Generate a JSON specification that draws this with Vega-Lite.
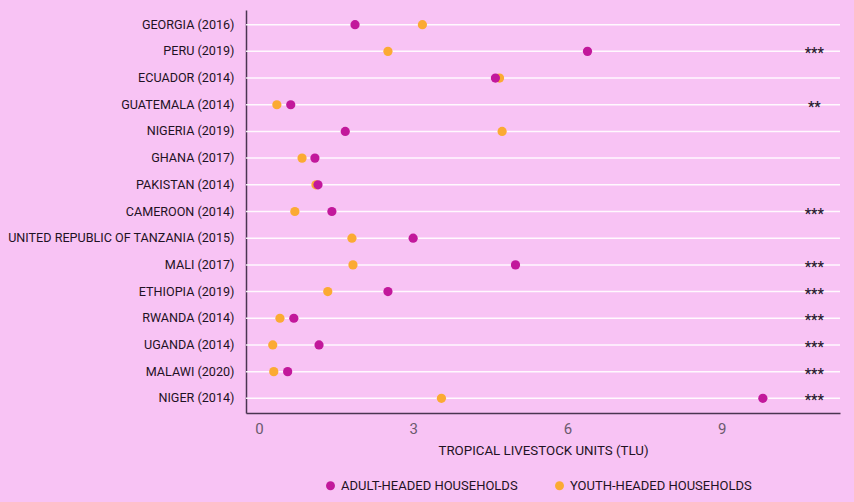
{
  "$schema": "https://vega.github.io/schema/vega-lite/v6.json",
  "width": 594,
  "height": 403,
  "autosize": {"type": "none"},
  "padding": {"left": 246, "top": 10, "right": 14, "bottom": 89},
  "background": "#F8C3F4",
  "config": {
    "view": {"stroke": null},
    "font": "Roboto",
    "axis": {"labelFont": "Roboto", "titleFont": "Roboto"}
  },
  "datasets": {
    "pts": [
      {"country": "GEORGIA (2016)", "group": "ADULT-HEADED HOUSEHOLDS", "tlu": 1.87},
      {"country": "GEORGIA (2016)", "group": "YOUTH-HEADED HOUSEHOLDS", "tlu": 3.18},
      {"country": "PERU (2019)", "group": "ADULT-HEADED HOUSEHOLDS", "tlu": 6.39},
      {"country": "PERU (2019)", "group": "YOUTH-HEADED HOUSEHOLDS", "tlu": 2.51},
      {"country": "ECUADOR (2014)", "group": "YOUTH-HEADED HOUSEHOLDS", "tlu": 4.68},
      {"country": "ECUADOR (2014)", "group": "ADULT-HEADED HOUSEHOLDS", "tlu": 4.6},
      {"country": "GUATEMALA (2014)", "group": "ADULT-HEADED HOUSEHOLDS", "tlu": 0.62},
      {"country": "GUATEMALA (2014)", "group": "YOUTH-HEADED HOUSEHOLDS", "tlu": 0.35},
      {"country": "NIGERIA (2019)", "group": "ADULT-HEADED HOUSEHOLDS", "tlu": 1.68},
      {"country": "NIGERIA (2019)", "group": "YOUTH-HEADED HOUSEHOLDS", "tlu": 4.73},
      {"country": "GHANA (2017)", "group": "ADULT-HEADED HOUSEHOLDS", "tlu": 1.09},
      {"country": "GHANA (2017)", "group": "YOUTH-HEADED HOUSEHOLDS", "tlu": 0.84},
      {"country": "PAKISTAN (2014)", "group": "YOUTH-HEADED HOUSEHOLDS", "tlu": 1.11},
      {"country": "PAKISTAN (2014)", "group": "ADULT-HEADED HOUSEHOLDS", "tlu": 1.15},
      {"country": "CAMEROON (2014)", "group": "ADULT-HEADED HOUSEHOLDS", "tlu": 1.42},
      {"country": "CAMEROON (2014)", "group": "YOUTH-HEADED HOUSEHOLDS", "tlu": 0.7},
      {"country": "UNITED REPUBLIC OF TANZANIA (2015)", "group": "ADULT-HEADED HOUSEHOLDS", "tlu": 3.0},
      {"country": "UNITED REPUBLIC OF TANZANIA (2015)", "group": "YOUTH-HEADED HOUSEHOLDS", "tlu": 1.81},
      {"country": "MALI (2017)", "group": "ADULT-HEADED HOUSEHOLDS", "tlu": 4.99},
      {"country": "MALI (2017)", "group": "YOUTH-HEADED HOUSEHOLDS", "tlu": 1.83},
      {"country": "ETHIOPIA (2019)", "group": "ADULT-HEADED HOUSEHOLDS", "tlu": 2.51},
      {"country": "ETHIOPIA (2019)", "group": "YOUTH-HEADED HOUSEHOLDS", "tlu": 1.34},
      {"country": "RWANDA (2014)", "group": "ADULT-HEADED HOUSEHOLDS", "tlu": 0.68},
      {"country": "RWANDA (2014)", "group": "YOUTH-HEADED HOUSEHOLDS", "tlu": 0.41},
      {"country": "UGANDA (2014)", "group": "ADULT-HEADED HOUSEHOLDS", "tlu": 1.17},
      {"country": "UGANDA (2014)", "group": "YOUTH-HEADED HOUSEHOLDS", "tlu": 0.27},
      {"country": "MALAWI (2020)", "group": "ADULT-HEADED HOUSEHOLDS", "tlu": 0.56},
      {"country": "MALAWI (2020)", "group": "YOUTH-HEADED HOUSEHOLDS", "tlu": 0.29},
      {"country": "NIGER (2014)", "group": "ADULT-HEADED HOUSEHOLDS", "tlu": 9.8},
      {"country": "NIGER (2014)", "group": "YOUTH-HEADED HOUSEHOLDS", "tlu": 3.55}
    ],
    "sig": [
      {"country": "PERU (2019)", "stars": "***", "pos": 10.8},
      {"country": "GUATEMALA (2014)", "stars": "**", "pos": 10.8},
      {"country": "CAMEROON (2014)", "stars": "***", "pos": 10.8},
      {"country": "MALI (2017)", "stars": "***", "pos": 10.8},
      {"country": "ETHIOPIA (2019)", "stars": "***", "pos": 10.8},
      {"country": "RWANDA (2014)", "stars": "***", "pos": 10.8},
      {"country": "UGANDA (2014)", "stars": "***", "pos": 10.8},
      {"country": "MALAWI (2020)", "stars": "***", "pos": 10.8},
      {"country": "NIGER (2014)", "stars": "***", "pos": 10.8}
    ],
    "countries": [
      {"country": "GEORGIA (2016)"}, {"country": "PERU (2019)"}, {"country": "ECUADOR (2014)"},
      {"country": "GUATEMALA (2014)"}, {"country": "NIGERIA (2019)"}, {"country": "GHANA (2017)"},
      {"country": "PAKISTAN (2014)"}, {"country": "CAMEROON (2014)"},
      {"country": "UNITED REPUBLIC OF TANZANIA (2015)"}, {"country": "MALI (2017)"},
      {"country": "ETHIOPIA (2019)"}, {"country": "RWANDA (2014)"}, {"country": "UGANDA (2014)"},
      {"country": "MALAWI (2020)"}, {"country": "NIGER (2014)"}
    ]
  },
  "encoding": {
    "y": {
      "field": "country", "type": "nominal", "sort": null,
      "scale": {"domain": ["GEORGIA (2016)", "PERU (2019)", "ECUADOR (2014)", "GUATEMALA (2014)", "NIGERIA (2019)", "GHANA (2017)", "PAKISTAN (2014)", "CAMEROON (2014)", "UNITED REPUBLIC OF TANZANIA (2015)", "MALI (2017)", "ETHIOPIA (2019)", "RWANDA (2014)", "UGANDA (2014)", "MALAWI (2020)", "NIGER (2014)"], "paddingInner": 0, "paddingOuter": 0.05},
      "axis": {
        "title": null, "ticks": false, "domain": true, "domainColor": "#4A3550", "domainWidth": 1.5,
        "labelFontSize": 12.6, "labelColor": "#1F1224", "labelPadding": 12, "grid": false, "labelLimit": 0
      }
    }
  },
  "layer": [
    {
      "data": {"name": "countries"},
      "mark": {"type": "rule", "color": "#FFFFFF", "strokeWidth": 1.5, "opacity": 0.9},
      "encoding": {}
    },
    {
      "data": {"name": "pts"},
      "mark": {"type": "circle", "size": 85, "opacity": 1},
      "encoding": {
        "x": {
          "field": "tlu", "type": "quantitative",
          "scale": {"domain": [-0.25, 11.3], "nice": false, "zero": false},
          "axis": {
            "values": [0, 3, 6, 9], "title": "TROPICAL LIVESTOCK UNITS (TLU)",
            "ticks": false, "grid": false, "domainColor": "#4A3550", "domainWidth": 1.5,
            "labelFontSize": 15, "labelColor": "#6B5A6E", "labelPadding": 8,
            "titleFontSize": 13.3, "titleFontWeight": "normal", "titleColor": "#1F1224", "titlePadding": 7
          }
        },
        "color": {
          "field": "group", "type": "nominal",
          "scale": {"domain": ["ADULT-HEADED HOUSEHOLDS", "YOUTH-HEADED HOUSEHOLDS"], "range": ["#C2189B", "#FBAA33"]},
          "legend": {
            "title": null, "orient": "none", "legendX": 78, "legendY": 469, "direction": "horizontal",
            "symbolType": "circle", "symbolSize": 80, "labelFontSize": 13, "labelColor": "#1F1224",
            "columnPadding": 35, "symbolOpacity": 1, "labelLimit": 0
          }
        }
      }
    },
    {
      "data": {"name": "sig"},
      "mark": {"type": "text", "fontSize": 14, "fontWeight": "bold", "color": "#2A1A30", "baseline": "middle", "dy": 3},
      "encoding": {
        "x": {"field": "pos", "type": "quantitative"},
        "text": {"field": "stars"}
      }
    }
  ]
}
